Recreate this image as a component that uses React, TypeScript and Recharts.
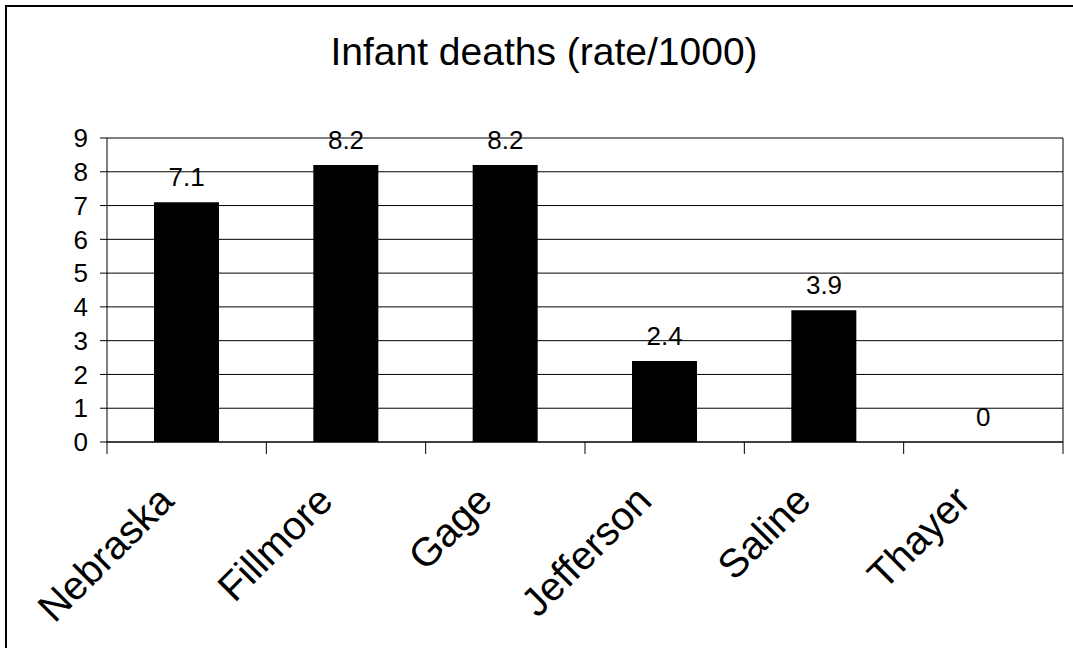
import React from 'react';
import { ComposedChart, Bar, Line, XAxis, YAxis, CartesianGrid, LabelList } from 'recharts';

const counties = ['Nebraska', 'Fillmore', 'Gage', 'Jefferson', 'Saline', 'Thayer'];
const rates = [7.1, 8.2, 8.2, 2.4, 3.9, 0];
const yTicks = [0, 1, 2, 3, 4, 5, 6, 7, 8, 9];

const data = counties.map((county, i) => ({ county, rate: rates[i] }));

const W = 1073;
const H = 648;
const TOP = 138;
const LEFT_AXIS = 107;
const RIGHT_AXIS = 10;
const X_AXIS_H = 206;
const AXIS_Y = H - X_AXIS_H;
const BAND = (W - LEFT_AXIS - RIGHT_AXIS) / counties.length;
const FONT = '"Liberation Sans", Arial, sans-serif';

const CountyTick = (props: any) => {
  const { x, payload, index } = props;
  const half = BAND / 2;
  const tx = x - 11;
  const ty = AXIS_Y + 61;
  return (
    <g>
      <line x1={x - half} x2={x - half} y1={AXIS_Y} y2={AXIS_Y + 12} stroke="#000" />
      {index === counties.length - 1 && (
        <line x1={x + half} x2={x + half} y1={AXIS_Y} y2={AXIS_Y + 12} stroke="#000" />
      )}
      <text
        x={tx}
        y={ty}
        textAnchor="end"
        transform={`rotate(-45, ${tx}, ${ty})`}
        fontSize={40}
        fontFamily={FONT}
        fill="#000"
      >
        {payload.value}
      </text>
    </g>
  );
};

export default function App() {
  return (
    <div style={{ position: 'absolute', left: 0, top: 0, width: W, height: H, overflow: 'hidden', background: '#fff' }}>
      <div
        style={{
          position: 'absolute',
          left: 5,
          top: 5,
          width: 1200,
          height: 800,
          borderTop: '2px solid #000',
          borderLeft: '2px solid #000',
        }}
      />
      <div
        style={{
          position: 'absolute',
          left: 0,
          top: 33,
          width: 1088,
          textAlign: 'center',
          fontFamily: FONT,
          fontSize: 39,
          lineHeight: '38px',
          color: '#000',
        }}
      >
        Infant deaths (rate/1000)
      </div>
      <div style={{ position: 'absolute', left: 0, top: 0 }}>
        <ComposedChart width={W} height={H} data={data} margin={{ top: TOP, right: 0, bottom: 0, left: 0 }}>
          <CartesianGrid horizontal vertical={false} stroke="#000" />
          <XAxis
            dataKey="county"
            height={X_AXIS_H}
            interval={0}
            tickLine={false}
            axisLine={{ stroke: '#000' }}
            tick={<CountyTick />}
          />
          <YAxis
            width={LEFT_AXIS}
            domain={[0, 9]}
            ticks={yTicks}
            interval={0}
            tickSize={7}
            tickMargin={12}
            axisLine={{ stroke: '#000' }}
            tickLine={{ stroke: '#000' }}
            tick={{ fill: '#000', fontSize: 26, fontFamily: FONT }}
          />
          <YAxis
            yAxisId="frame"
            orientation="right"
            width={RIGHT_AXIS}
            domain={[0, 9]}
            tick={false}
            tickLine={false}
            axisLine={{ stroke: '#000' }}
          />
          <Bar dataKey="rate" fill="#000" barSize={65} isAnimationActive={false} />
          <Line
            dataKey="rate"
            stroke="none"
            dot={false}
            activeDot={false}
            legendType="none"
            isAnimationActive={false}
          >
            <LabelList
              dataKey="rate"
              position="top"
              offset={16}
              fill="#000"
              fontSize={26}
              fontFamily={FONT}
            />
          </Line>
        </ComposedChart>
      </div>
    </div>
  );
}
